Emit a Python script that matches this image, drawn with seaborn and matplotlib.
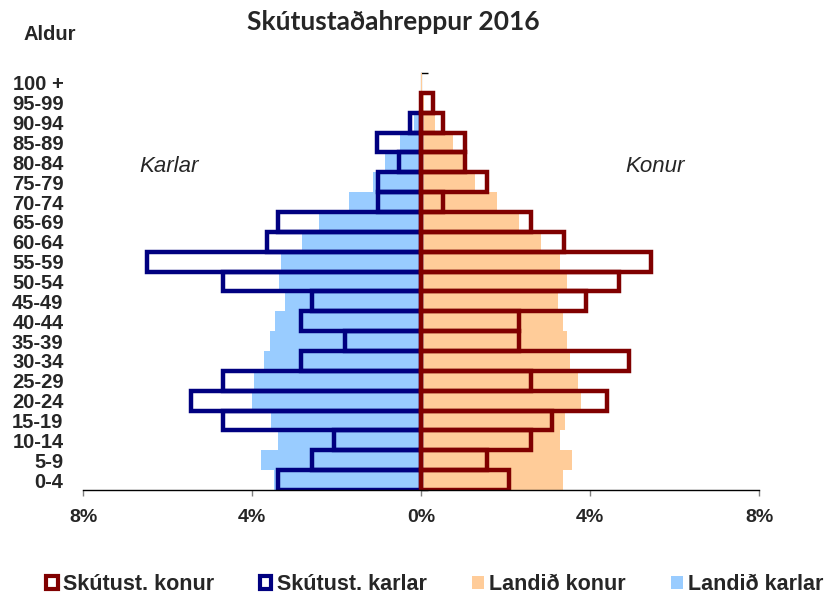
import matplotlib
matplotlib.use("Agg")
import matplotlib.pyplot as plt
from matplotlib.patches import Patch
import seaborn as sns
import pandas as pd

# age groups, youngest first
age_groups = ["0-4", "5-9", "10-14", "15-19", "20-24", "25-29", "30-34", "35-39",
              "40-44", "45-49", "50-54", "55-59", "60-64", "65-69", "70-74",
              "75-79", "80-84", "85-89", "90-94", "95-99", "100 +"]

# percent of population
skut_karlar = [3.38, 2.57, 2.06, 4.68, 5.44, 4.68, 2.85, 1.80, 2.85, 2.57, 4.68,
               6.48, 3.64, 3.38, 1.01, 1.01, 0.51, 1.04, 0.26, 0.0, 0.0]
skut_konur = [2.09, 1.57, 2.60, 3.11, 4.41, 2.60, 4.93, 2.33, 2.33, 3.90, 4.69,
              5.44, 3.38, 2.60, 0.51, 1.57, 1.04, 1.04, 0.53, 0.28, 0.0]
landid_karlar = [3.47, 3.79, 3.38, 3.54, 4.01, 3.95, 3.72, 3.57, 3.46, 3.22, 3.36,
                 3.32, 2.82, 2.41, 1.70, 1.13, 0.85, 0.50, 0.17, 0.04, 0.01]
landid_konur = [3.37, 3.57, 3.29, 3.41, 3.79, 3.71, 3.53, 3.46, 3.37, 3.25, 3.45,
                3.29, 2.83, 2.32, 1.79, 1.28, 0.99, 0.75, 0.33, 0.08, 0.02]

x_ticks = [-8, -4, 0, 4, 8]
x_tick_labels = ["8%", "4%", "0%", "4%", "8%"]

navy = "#000080"
darkred = "#800000"
lightblue = "#99CCFF"
peach = "#FFCC99"

df = pd.DataFrame({"age": age_groups,
                   "skut_karlar": [-v for v in skut_karlar],
                   "skut_konur": skut_konur,
                   "landid_karlar": [-v for v in landid_karlar],
                   "landid_konur": landid_konur})
order = age_groups[::-1]

sns.set_style("white")
plt.rcParams['font.family'] = ['Liberation Sans', 'DejaVu Sans']

fig = plt.figure(figsize=(8.24, 5.97), dpi=100)
ax = fig.add_axes([83 / 824, 1 - 490 / 597, 676 / 824, 417 / 597])

sns.barplot(data=df, x="landid_karlar", y="age", order=order, orient="h",
            color=lightblue, saturation=1, width=1, linewidth=0, ax=ax)
sns.barplot(data=df, x="landid_konur", y="age", order=order, orient="h",
            color=peach, saturation=1, width=1, linewidth=0, ax=ax)
# outlines, skip empty groups
sns.barplot(data=df[df.skut_karlar != 0], x="skut_karlar", y="age", order=order,
            orient="h", color=navy, saturation=1, width=1, fill=False,
            linewidth=3.2, ax=ax)
sns.barplot(data=df[df.skut_konur != 0], x="skut_konur", y="age", order=order,
            orient="h", color=darkred, saturation=1, width=1, fill=False,
            linewidth=3.2, ax=ax)

ax.set_xlim(-8, 8)
ax.set_ylim(len(order) - 0.5, -0.5)
ax.set_xlabel("")
ax.set_ylabel("")
for s in ["top", "left", "right"]:
    ax.spines[s].set_visible(False)
ax.spines["bottom"].set_color("black")
ax.spines["bottom"].set_linewidth(1)

ax.set_xticks(x_ticks)
ax.set_xticklabels(x_tick_labels, fontsize=14, fontweight="bold")
ax.tick_params(axis="x", bottom=True, length=4, width=1, color="#808080", pad=10)
ax.tick_params(axis="y", left=False, length=0, pad=14)
for lbl in ax.get_yticklabels():
    lbl.set_fontsize(14.5)
    lbl.set_fontweight("bold")

# center axis with ticks between groups
sec = ax.secondary_yaxis(0.5)
sec.set_yticks([i - 0.5 for i in range(len(order) + 1)])
sec.set_yticklabels([])
sec.tick_params(length=5, width=1, color="black", direction="out")
sec.spines["left"].set_color("black")
sec.spines["left"].set_linewidth(1)

fig.text(393 / 824, 1 - 22 / 597, "Skútustaðahreppur 2016", ha="center", va="center",
         fontsize=19, fontweight="bold", family=["Lato", "DejaVu Sans"])
fig.text(50 / 824, 1 - 35 / 597, "Aldur", ha="center", va="center",
         fontsize=14.5, fontweight="bold")
fig.text(169 / 824, 1 - 166 / 597, "Karlar", ha="center", va="center",
         fontsize=16, style="italic")
fig.text(655 / 824, 1 - 166 / 597, "Konur", ha="center", va="center",
         fontsize=16, style="italic")

handles = [Patch(facecolor="white", edgecolor=darkred, linewidth=3, label="Skútust. konur"),
           Patch(facecolor="white", edgecolor=navy, linewidth=3, label="Skútust. karlar"),
           Patch(facecolor=peach, edgecolor="none", label="Landið konur"),
           Patch(facecolor=lightblue, edgecolor="none", label="Landið karlar")]
fig.legend(handles=handles, loc="center left", ncol=4,
           bbox_to_anchor=(46 / 824, 1 - 585 / 597),
           frameon=False, handlelength=0.55, handleheight=0.55, handletextpad=0.25,
           columnspacing=2.1, borderaxespad=0, borderpad=0,
           prop={"weight": "bold", "size": 15.5})

fig.savefig("out.png", dpi=100)
